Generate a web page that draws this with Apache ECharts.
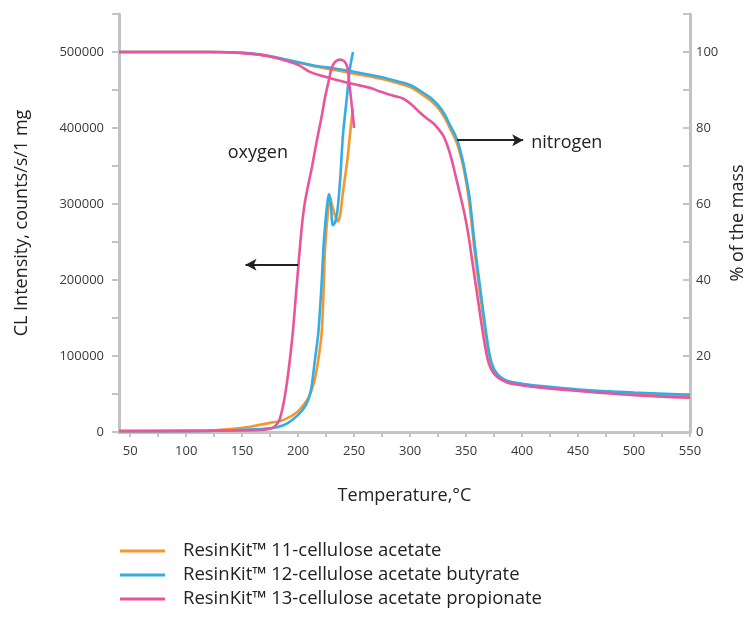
<!DOCTYPE html>
<html><head><meta charset="utf-8">
<script src="https://cdn.jsdelivr.net/npm/echarts@6/dist/echarts.min.js"></script>
<style>html,body{margin:0;padding:0;background:#fff}#c{width:744px;height:626px}</style>
</head><body><div id="c"></div>
<script>
const seriesNames = [
  'ResinKit\u2122 11-cellulose acetate',
  'ResinKit\u2122 12-cellulose acetate butyrate',
  'ResinKit\u2122 13-cellulose acetate propionate'
];
const colors = ['#f7962b', '#34ade6', '#e9549c'];

const xTickValues = [50,75,100,125,150,175,200,225,250,275,300,325,350,375,400,425,450,475,500,525,550];
const xLabelValues = [50,100,150,200,250,300,350,400,450,500,550];

// CL intensity (oxygen), left axis: [temperature, counts/s/1 mg]
const clAcetate = [[40,1000],[120,2000],[140,4000],[157,7000],[175,12000],[187,16000],[199,26000],[208,42000],[212,55000],[215,70000],[218,95000],[221,130000],[223,196000],[224,240000],[227,296000],[228.5,308000],[230,300000],[233,285000],[235.5,277000],[237.5,285000],[240,315000],[243.8,356000],[246.4,393000],[248,415000],[249,425000]];
const clButyrate = [[40,1000],[120,1500],[150,3000],[175,5000],[187,9000],[195,16000],[204,29000],[209,42000],[212,60000],[215,95000],[218,130000],[221,196000],[222.5,240000],[224,270000],[226,300000],[227.5,313000],[229,303000],[231,272000],[233,276000],[235,290000],[237.5,331000],[240,390000],[243.5,440000],[246,476000],[249,500000]];
const clPropionate = [[40,1500],[100,1500],[150,2000],[170,3000],[178,6000],[183,15000],[187,38000],[190,65000],[193,100000],[195.5,135000],[198,180000],[200,215000],[202,250000],[204,280000],[206,302000],[209,325000],[212,346000],[215,370000],[218,393000],[221,415000],[224,440000],[227,460000],[230,479000],[233,487000],[237,490000],[241,488000],[244,480000],[246,455000],[248,428000],[250,400000]];

// TGA mass (nitrogen), right axis: [temperature, % of the mass]
const tgaAcetate = [[40,100],[120,100],[150,99.8],[165,99.3],[180,98.5],[200,97.2],[215,96.2],[230,95.4],[250,94.3],[273,93],[290,91.7],[300,90.8],[310,89],[318,87.3],[325,85.3],[331,82.7],[336,79.7],[340,77.3],[343,75],[347,70.5],[350,66],[353,60],[356,52],[358,46.5],[361,39.5],[364,33],[367,26.5],[370,21],[373,17.4],[377,15.2],[383,13.7],[390,12.9],[400,12.4],[420,11.7],[450,11],[500,10.1],[550,9.5]];
const tgaButyrate = [[40,100],[120,100],[150,99.8],[165,99.4],[180,98.6],[200,97.3],[215,96.4],[230,95.8],[250,94.8],[273,93.5],[290,92.2],[300,91.3],[310,89.6],[318,88],[325,86],[331,83.5],[336,80.5],[340,78.3],[343,76],[347,71.5],[350,67],[353,62],[356,54],[358,48.5],[361,41.5],[364,34.7],[367,28],[370,22],[373,18],[377,15.6],[383,14],[390,13.2],[400,12.7],[420,12],[450,11.2],[500,10.4],[550,9.8]];
const tgaPropionate = [[40,100],[130,100],[150,99.7],[165,99.3],[180,98.5],[190,97.6],[200,96.6],[211,94.7],[220,93.8],[231,92.9],[250,91.5],[264,90.6],[273,89.6],[285,88.5],[294,87.7],[302,86],[309,84],[315,82.5],[321,81.2],[326,79.5],[330,77.8],[334,74.8],[337,71.8],[340,68.2],[343,64.5],[346,60.8],[349,56.8],[352,52],[355,46],[358,40],[361,34],[364,28],[367,22.5],[370,18.3],[374,15.7],[379,14.2],[386,13.1],[395,12.5],[413,11.8],[450,10.8],[500,9.7],[550,9.0]];

// annotations (data coordinates on left axis)
const oxygenArrow = [[200,220000],[153,220000]];
const nitrogenArrow = [[342,384000],[401,384000]];
const oxygenLabel = [164,367000];
const nitrogenLabel = [440,381000];

const FONT = '"Open Sans", "Noto Sans", sans-serif';
const axisGrey = '#c3c3c3';

function line(name, data, color, yIdx, extra) {
  return Object.assign({
    type: 'line', name: name, data: data, yAxisIndex: yIdx,
    showSymbol: false, symbol: 'none', smooth: 0.3,
    lineStyle: {color: color, width: 2.6}, itemStyle: {color: color},
    z: 3
  }, extra || {});
}

const chart = echarts.init(document.getElementById('c'), null, {renderer: 'canvas'});
chart.setOption({
  animation: false,
  backgroundColor: '#fff',
  color: colors,
  textStyle: {fontFamily: FONT},
  grid: {left: 119, right: 54, top: 14, bottom: 194, containLabel: false, outerBoundsMode: 'none'},
  legend: {
    orient: 'vertical', left: 120, top: 541, padding: 0,
    data: seriesNames,
    icon: 'rect', itemWidth: 45, itemHeight: 3, itemGap: 4,
    textStyle: {fontSize: 18.5, color: '#222', fontFamily: FONT, lineHeight: 20, padding: [0, 0, 0, 13]}
  },
  xAxis: {
    type: 'value', min: 40, max: 550,
    name: 'Temperature,\u00b0C', nameLocation: 'middle', nameGap: 55,
    nameTextStyle: {fontSize: 18, color: '#222', fontFamily: FONT},
    axisLine: {show: true, onZero: false, lineStyle: {color: axisGrey, width: 3}},
    axisTick: {show: true, customValues: xTickValues, length: 5, lineStyle: {color: axisGrey, width: 2}},
    axisLabel: {customValues: xLabelValues, fontSize: 13, color: '#3a3a3a', margin: 13, fontFamily: FONT},
    splitLine: {show: false}
  },
  yAxis: [{
    type: 'value', min: 0, max: 550000, interval: 50000, position: 'left',
    name: 'CL Intensity, counts/s/1 mg', nameLocation: 'middle', nameGap: 88, nameRotate: 90,
    nameTextStyle: {fontSize: 18, color: '#222', fontFamily: FONT},
    axisLine: {show: true, lineStyle: {color: axisGrey, width: 3}},
    axisTick: {show: true, length: 7, lineStyle: {color: axisGrey, width: 2}},
    axisLabel: {fontSize: 13, color: '#3a3a3a', margin: 15, fontFamily: FONT,
      formatter: v => (v % 100000 === 0 ? String(v) : '')},
    splitLine: {show: false}
  }, {
    type: 'value', min: 0, max: 110, interval: 10, position: 'right',
    name: '% of the mass', nameLocation: 'middle', nameGap: 32, nameRotate: 90,
    nameTextStyle: {fontSize: 18, color: '#222', fontFamily: FONT},
    axisLine: {show: true, lineStyle: {color: axisGrey, width: 3}},
    axisTick: {show: true, inside: true, length: 7, lineStyle: {color: axisGrey, width: 2}},
    axisLabel: {fontSize: 13, color: '#3a3a3a', margin: 6, fontFamily: FONT,
      formatter: v => (v % 20 === 0 ? String(v) : '')},
    splitLine: {show: false}
  }],
  series: [
    line(seriesNames[0], tgaAcetate, colors[0], 1),
    line(seriesNames[1], tgaButyrate, colors[1], 1),
    line(seriesNames[2], tgaPropionate, colors[2], 1),
    line(seriesNames[0], clAcetate, colors[0], 0),
    line(seriesNames[1], clButyrate, colors[1], 0),
    line(seriesNames[2], clPropionate, colors[2], 0, {
      markLine: {
        silent: true, symbol: ['none', 'arrow'], symbolSize: [9, 11],
        lineStyle: {color: '#222', width: 2, type: 'solid'},
        label: {show: false},
        data: [
          [{coord: oxygenArrow[0]}, {coord: oxygenArrow[1]}],
          [{coord: nitrogenArrow[0]}, {coord: nitrogenArrow[1]}]
        ]
      },
      markPoint: {
        silent: true, symbol: 'circle', symbolSize: 1,
        itemStyle: {color: 'rgba(0,0,0,0)'},
        label: {show: true, position: 'inside', formatter: '{b}', fontSize: 18, color: '#222', fontFamily: FONT},
        data: [
          {name: 'oxygen', coord: oxygenLabel},
          {name: 'nitrogen', coord: nitrogenLabel}
        ]
      }
    })
  ]
});
</script></body></html>
